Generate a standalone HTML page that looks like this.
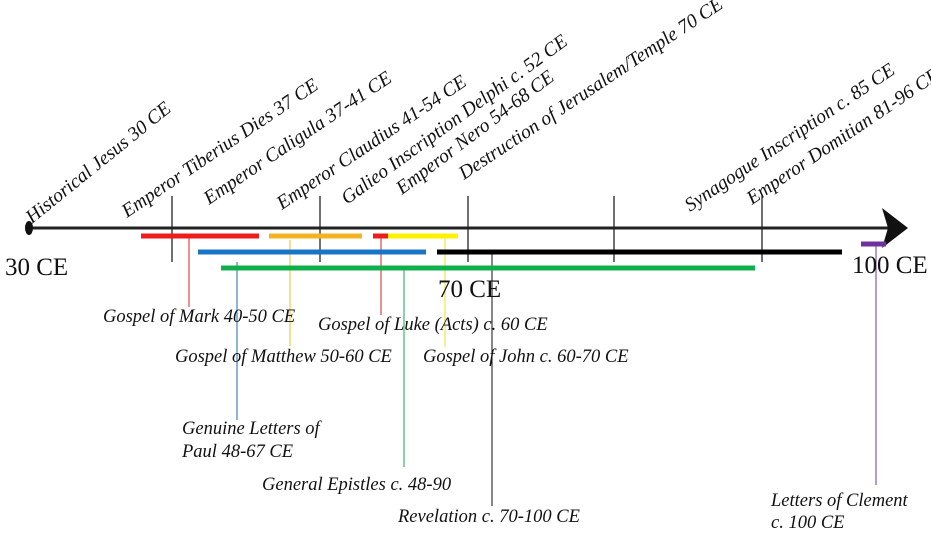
<!DOCTYPE html>
<html><head><meta charset="utf-8"><style>
html,body{margin:0;padding:0;background:#fff;}
svg{display:block;}
.t{font-family:"Liberation Serif",serif;font-style:italic;font-size:19.5px;fill:#111;}
.b{font-family:"Liberation Serif",serif;font-style:italic;font-size:18.5px;fill:#111;}
.a{font-family:"Liberation Serif",serif;font-size:25px;fill:#111;}
</style></head><body>
<svg width="931" height="544" viewBox="0 0 931 544" xmlns="http://www.w3.org/2000/svg">
<line x1="30" y1="228" x2="888" y2="228" stroke="#222" stroke-width="3"/>
<polygon points="882,208 908,228 882,248 888,228" fill="#111"/>
<ellipse cx="29" cy="228" rx="4" ry="7" fill="#111"/>
<g stroke="#222" stroke-width="1.3">
<line x1="172" y1="196" x2="172" y2="262"/>
<line x1="320" y1="196" x2="320" y2="262"/>
<line x1="468" y1="196" x2="468" y2="262"/>
<line x1="614" y1="196" x2="614" y2="262"/>
<line x1="762" y1="196" x2="762" y2="262"/>
</g>
<line x1="189" y1="236" x2="189" y2="307" stroke="#e02020" stroke-width="1"/>
<line x1="290" y1="240" x2="290" y2="346" stroke="#e8c020" stroke-width="1"/>
<line x1="237" y1="262" x2="237" y2="420" stroke="#1a6fa0" stroke-width="1"/>
<line x1="381" y1="236" x2="381" y2="315" stroke="#d02020" stroke-width="1"/>
<line x1="404" y1="268" x2="404" y2="467" stroke="#20a050" stroke-width="1"/>
<line x1="445" y1="236" x2="445" y2="347" stroke="#f0e020" stroke-width="1"/>
<line x1="492" y1="252" x2="492" y2="506" stroke="#111" stroke-width="1"/>
<line x1="876" y1="244" x2="876" y2="485" stroke="#6a3aa0" stroke-width="1"/>
<g stroke-width="5">
<line x1="141" y1="236" x2="259" y2="236" stroke="#ee1c1c"/>
<line x1="269" y1="236" x2="362" y2="236" stroke="#f5b324"/>
<line x1="373" y1="236" x2="388" y2="236" stroke="#ee1c1c"/>
<line x1="388" y1="236" x2="458" y2="236" stroke="#fff200"/>
<line x1="198" y1="252" x2="426" y2="252" stroke="#1874c4"/>
<line x1="437" y1="252" x2="842" y2="252" stroke="#000"/>
<line x1="221" y1="268" x2="755" y2="268" stroke="#0fb04c"/>
<line x1="861" y1="244" x2="886" y2="244" stroke="#7030a0"/>
</g>
<text class="a" x="5" y="275">30 CE</text>
<text class="a" x="438" y="297">70 CE</text>
<text class="a" x="852" y="273">100 CE</text>
<text class="t" transform="translate(32,224) rotate(-39)">Historical Jesus  30 CE</text>
<text class="t" transform="translate(127,218) rotate(-34)">Emperor Tiberius Dies 37 CE</text>
<text class="t" transform="translate(209,205) rotate(-34)">Emperor Caligula 37-41 CE</text>
<text class="t" transform="translate(282,210) rotate(-34)">Emperor Claudius 41-54 CE</text>
<text class="t" transform="translate(347,205) rotate(-36)">Galieo Inscription Delphi c. 52 CE</text>
<text class="t" transform="translate(402,195) rotate(-37)">Emperor Nero 54-68 CE</text>
<text class="t" transform="translate(464,180) rotate(-33.6)">Destruction of Jerusalem/Temple 70 CE</text>
<text class="t" transform="translate(690,212) rotate(-34)">Synagogue Inscription c. 85 CE</text>
<text class="t" transform="translate(752,205) rotate(-34)">Emperor Domitian 81-96 CE</text>
<text class="b" x="103" y="322">Gospel of Mark 40-50 CE</text>
<text class="b" x="318" y="330">Gospel of Luke (Acts) c. 60 CE</text>
<text class="b" x="175" y="362">Gospel of Matthew 50-60 CE</text>
<text class="b" x="423" y="362">Gospel of John  c. 60-70 CE</text>
<text class="b" x="182" y="434">Genuine Letters of</text>
<text class="b" x="182" y="457">Paul 48-67 CE</text>
<text class="b" x="262" y="490">General Epistles c. 48-90</text>
<text class="b" x="398" y="522">Revelation c. 70-100 CE</text>
<text class="b" x="771" y="506">Letters of Clement</text>
<text class="b" x="771" y="528">c. 100 CE</text>
</svg>
</body></html>
